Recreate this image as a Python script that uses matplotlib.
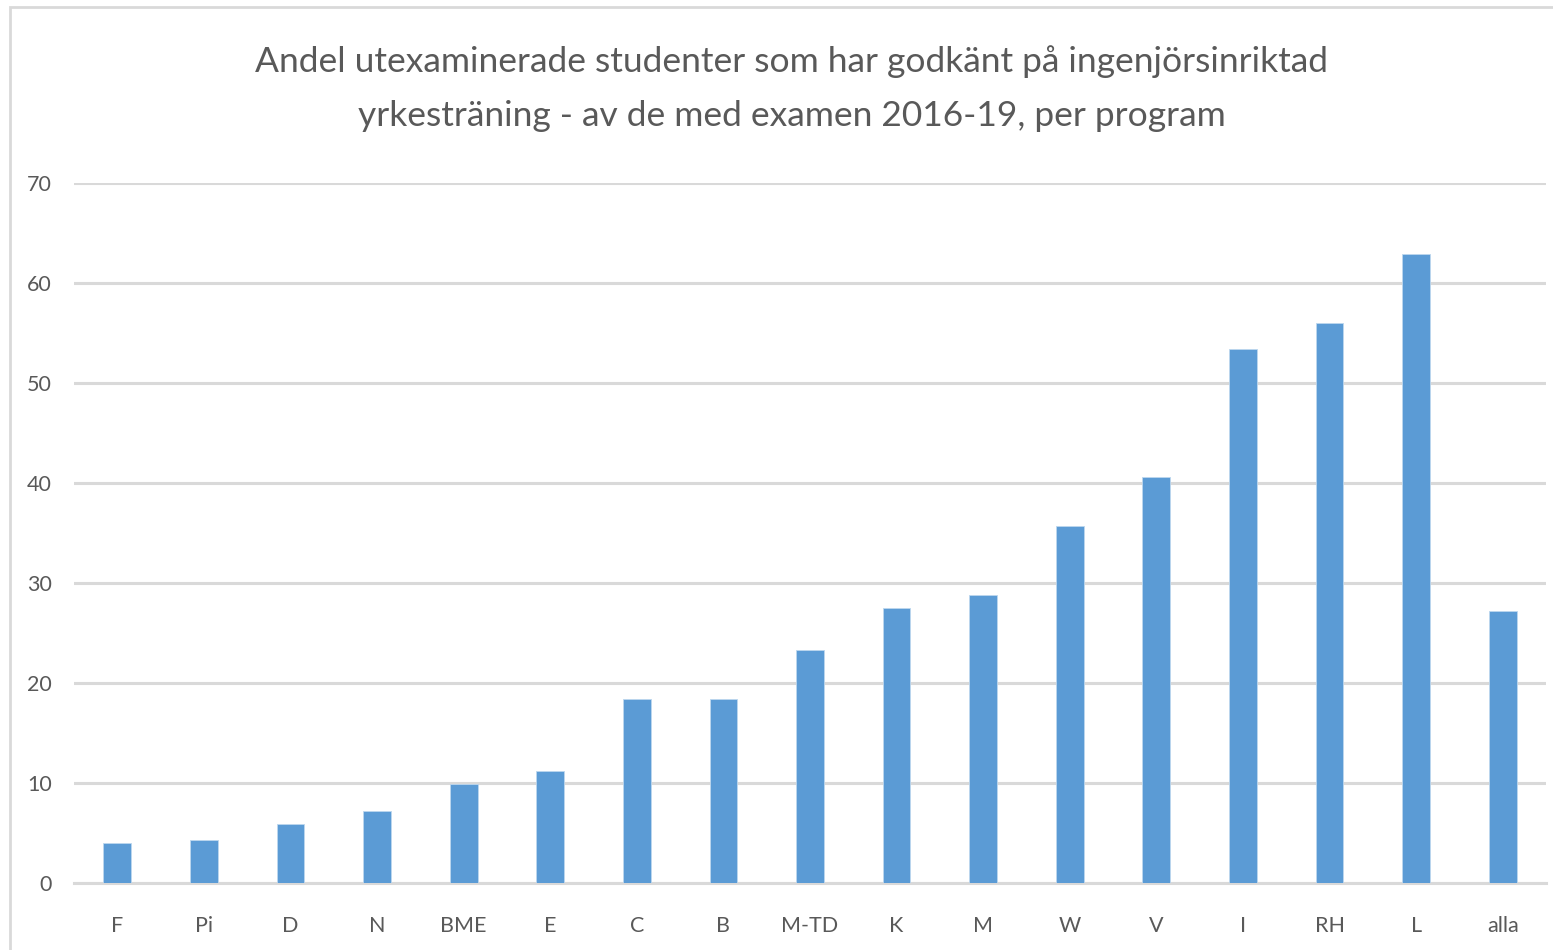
import matplotlib
matplotlib.use("Agg")
import matplotlib.pyplot as plt
from matplotlib.patches import Rectangle

programs = ["F", "Pi", "D", "N", "BME", "E", "C", "B", "M-TD", "K",
            "M", "W", "V", "I", "RH", "L", "alla"]
andel = [4.0, 4.3, 5.9, 7.2, 9.9, 11.2, 18.4, 18.4, 23.3, 27.5,
         28.8, 35.7, 40.6, 53.4, 56.0, 62.9, 27.2]
y_ticks = [0, 10, 20, 30, 40, 50, 60, 70]

W, H = 1553, 950
txt = "#595959"
grid = "#D9D9D9"
plt.rcParams["font.family"] = ["Lato", "DejaVu Sans"]

fig = plt.figure(figsize=(W / 100, H / 100), dpi=100)
ax = fig.add_axes([74 / W, (H - 883) / H, (1546 - 74) / W, (883 - 183) / H])

x = list(range(len(programs)))
ax.bar(x, andel, width=0.32, color="#5B9BD5", edgecolor="#BDD7EE", linewidth=0.6, zorder=3)

ax.set_xlim(-0.5, len(programs) - 0.5)
ax.set_ylim(0, 70)
ax.set_yticks(y_ticks)
ax.set_xticks(x)
ax.set_xticklabels(programs)
ax.tick_params(axis="both", length=0, colors=txt, labelsize=15.5)
ax.tick_params(axis="x", pad=24)
ax.tick_params(axis="y", pad=16)
for lab in ax.get_yticklabels():
    lab.set_fontsize(15.5)
ax.grid(axis="y", color=grid, linewidth=2.2, zorder=0)
for s in ["top", "right", "left"]:
    ax.spines[s].set_visible(False)
ax.spines["bottom"].set_color(grid)
ax.spines["bottom"].set_linewidth(2.2)

fig.text(792 / W, 1 - 62 / H, "Andel utexaminerade studenter som har godkänt på ingenjörsinriktad",
         ha="center", va="center", fontsize=25.5, color=txt)
fig.text(792 / W, 1 - 116 / H, "yrkesträning - av de med examen 2016-19, per program",
         ha="center", va="center", fontsize=25.5, color=txt)

# chart area border
fig.patches.append(Rectangle((10 / W, -0.05), 1.2, 1 - 7 / H + 0.05, transform=fig.transFigure,
                             fill=False, edgecolor=grid, linewidth=2))

fig.savefig("out.png", dpi=100)
